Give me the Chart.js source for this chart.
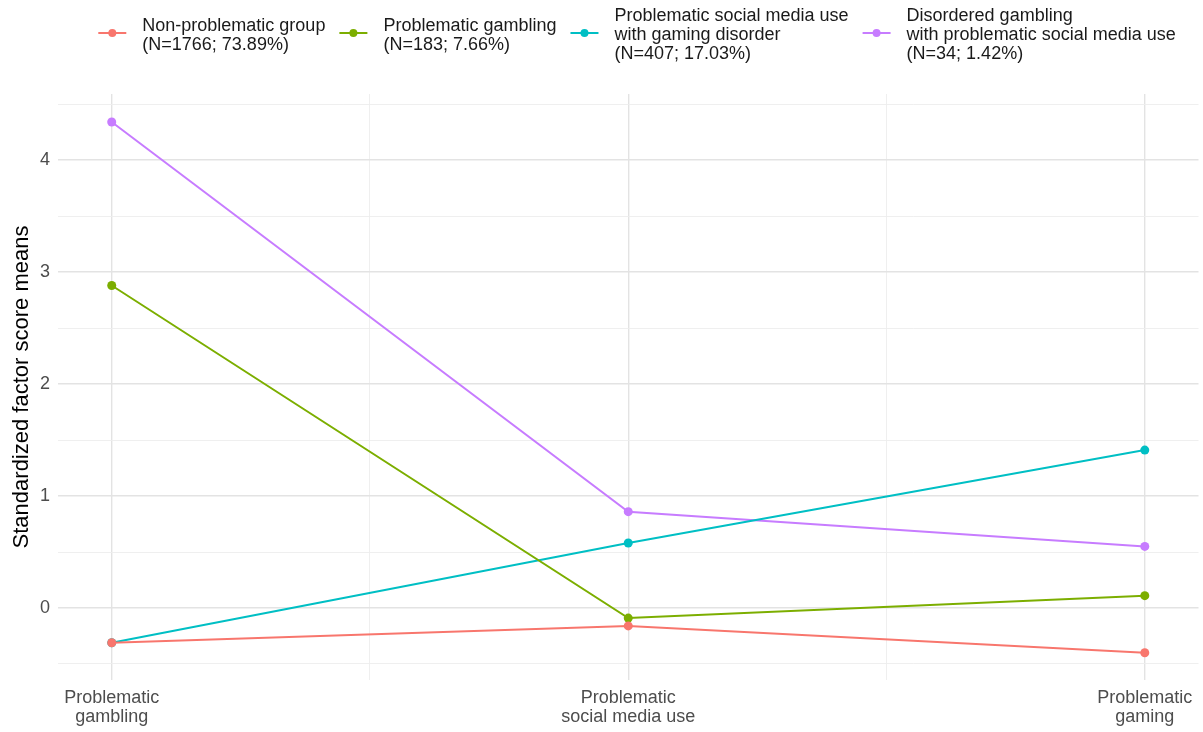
<!DOCTYPE html>
<html><head><meta charset="utf-8">
<script src="https://cdn.jsdelivr.net/npm/chart.js@4"></script>
<style>html,body{margin:0;padding:0;background:#fff;} #wrap{width:1203px;height:732px;position:relative}</style>
</head><body><div id="wrap"><canvas id="c"></canvas></div>
<script>
// ---- data ----
const categories = [["Problematic","gambling"],["Problematic","social media use"],["Problematic","gaming"]];
const seriesLabels = [
  ["Non-problematic group","(N=1766; 73.89%)"],
  ["Problematic gambling","(N=183; 7.66%)"],
  ["Problematic social media use","with gaming disorder","(N=407; 17.03%)"],
  ["Disordered gambling","with problematic social media use","(N=34; 1.42%)"]
];
const nonProblematic      = [-0.31, -0.16, -0.40];
const problematicGambling = [ 2.88, -0.09,  0.11];
const psmuGamingDisorder  = [-0.31,  0.58,  1.41];
const dgPsmu              = [ 4.34,  0.86,  0.55];
const yTickValues = [-0.5, 0, 0.5, 1, 1.5, 2, 2.5, 3, 3.5, 4, 4.5];
const xTickValues = [0, 0.5, 1, 1.5, 2];
const seriesColors = ["#F8766D", "#7CAE00", "#00BFC4", "#C77CFF"];

const seriesValues = [nonProblematic, problematicGambling, psmuGamingDisorder, dgPsmu];
const datasets = seriesValues.map((vals, i) => ({
  label: seriesLabels[i].join(" "),
  data: vals.map((v, j) => ({x: j, y: v})),
  borderColor: seriesColors[i],
  backgroundColor: seriesColors[i],
  borderWidth: 2,
  pointRadius: 4.5,
  pointHoverRadius: 4.5,
  pointBorderWidth: 0,
  tension: 0
}));

const FONT = "'Liberation Sans', Arial, sans-serif";
const isInt = v => Math.abs(v - Math.round(v)) < 1e-9;

const legendPlugin = {
  id: 'ggLegend',
  afterDraw(chart) {
    const ctx = chart.ctx;
    ctx.save();
    ctx.font = "18px " + FONT;
    const markerW = 28, textGap = 16, itemGap = 14, lh = 19, cy = 33;
    const widths = seriesLabels.map(ls => Math.max(...ls.map(s => ctx.measureText(s).width)));
    let total = 0;
    widths.forEach((w, i) => { total += markerW + textGap + w + (i < widths.length - 1 ? itemGap : 0); });
    let x = 637 - total / 2;
    seriesLabels.forEach((ls, i) => {
      const c = seriesColors[i];
      ctx.strokeStyle = c; ctx.lineWidth = 2;
      ctx.beginPath(); ctx.moveTo(x, cy); ctx.lineTo(x + markerW, cy); ctx.stroke();
      ctx.fillStyle = c;
      ctx.beginPath(); ctx.arc(x + markerW / 2, cy, 4, 0, Math.PI * 2); ctx.fill();
      const tx = x + markerW + textGap;
      ctx.fillStyle = "#1a1a1a";
      ctx.textAlign = "left"; ctx.textBaseline = "alphabetic";
      const firstBase = 35 - (ls.length - 1) * lh / 2 + 5;
      ls.forEach((s, k) => ctx.fillText(s, tx, firstBase + k * lh));
      x = tx + widths[i] + itemGap;
    });
    ctx.restore();
  }
};

const gridColor = c => isInt(c.tick.value) ? '#e3e3e3' : '#ededed';
const gridWidth = c => isInt(c.tick.value) ? 1.4 : 0.9;

new Chart(document.getElementById('c'), {
  type: 'line',
  data: { datasets },
  plugins: [legendPlugin],
  options: {
    responsive: true,
    maintainAspectRatio: false,
    animation: false,
    layout: { padding: { top: 94, right: 1, left: 0, bottom: 0 } },
    plugins: { legend: { display: false }, tooltip: { enabled: false } },
    scales: {
      x: {
        type: 'linear',
        min: -0.104, max: 2.104,
        afterBuildTicks: s => { s.ticks = xTickValues.map(v => ({value: v})); },
        afterFit: s => { s.height = 52; },
        border: { display: false },
        grid: { drawTicks: false, color: gridColor, lineWidth: gridWidth },
        ticks: {
          autoSkip: false, maxRotation: 0, padding: 8,
          color: '#4d4d4d',
          font: { family: FONT, size: 18, lineHeight: 1.06 },
          callback: v => isInt(v) ? categories[Math.round(v)] : ''
        }
      },
      y: {
        min: -0.643, max: 4.59,
        afterBuildTicks: s => { s.ticks = yTickValues.map(v => ({value: v})); },
        afterFit: s => { s.width = 58; },
        border: { display: false },
        grid: { drawTicks: false, color: gridColor, lineWidth: gridWidth },
        ticks: {
          padding: 8, color: '#4d4d4d',
          font: { family: FONT, size: 18 },
          callback: v => isInt(v) ? String(Math.round(v)) : ''
        },
        title: {
          display: true,
          text: 'Standardized factor score means',
          color: '#000',
          font: { family: FONT, size: 22 },
          padding: { top: 9, bottom: 0 }
        }
      }
    }
  }
});
</script>
</body></html>
